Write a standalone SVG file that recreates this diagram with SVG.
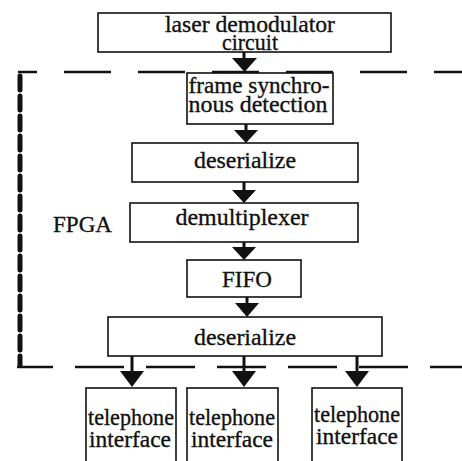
<svg xmlns="http://www.w3.org/2000/svg" width="462" height="461" viewBox="0 0 462 461">
<style>
  .box { fill: #fff; stroke: #111; stroke-width: 1.6; }
  .t { font-family: "Liberation Serif", "Times New Roman", serif; font-size: 24px; fill: #111; stroke: #111; stroke-width: 0.35; text-anchor: middle; }
  .stem { stroke: #111; stroke-width: 3; fill: none; }
  .head { fill: #111; }
  .fpga-top { stroke: #111; stroke-width: 2.5; fill: none; stroke-dasharray: 47 27; stroke-dashoffset: 28; }
  .fpga-bot { stroke: #111; stroke-width: 2.5; fill: none; stroke-dasharray: 49 22; stroke-dashoffset: 13; }
  .fpga-v { stroke: #111; stroke-width: 5; fill: none; stroke-dasharray: 14 6; stroke-linecap: round; }
</style>
<rect width="462" height="461" fill="#fff"/>
<g id="fpga-boundary">
  <path class="fpga-top" d="M 18 72 H 462"/>
  <path class="fpga-bot" d="M 17 367 H 462"/>
  <path class="fpga-v" d="M 20 76 V 365"/>
  <text class="t" x="53" y="232" style="text-anchor:start" textLength="59" lengthAdjust="spacingAndGlyphs">FPGA</text>
</g>
<g id="connectors">
  <path class="stem" d="M 244 52 V 60"/><path class="head" d="M 232 58 H 257 L 244.5 72 Z"/>
  <path class="stem" d="M 246 124 V 132"/><path class="head" d="M 234 130 H 258 L 246 143 Z"/>
  <path class="stem" d="M 244 182 V 192"/><path class="head" d="M 232 190 H 256 L 244 203 Z"/>
  <path class="stem" d="M 244 242 V 249"/><path class="head" d="M 232 247 H 256 L 244 260 Z"/>
  <path class="stem" d="M 247 297 V 305"/><path class="head" d="M 235 303 H 259 L 247 317 Z"/>
  <path class="stem" d="M 132 356 V 373"/><path class="head" d="M 120 371 H 144 L 132 387 Z"/>
  <path class="stem" d="M 244 356 V 373"/><path class="head" d="M 232 371 H 256 L 244 387 Z"/>
  <path class="stem" d="M 357 356 V 373"/><path class="head" d="M 345 371 H 369 L 357 387 Z"/>
</g>
<g id="laser">
  <rect class="box" x="98" y="13" width="293" height="39"/>
  <text class="t" x="250" y="32" textLength="170" lengthAdjust="spacingAndGlyphs">laser demodulator</text>
  <text class="t" x="250" y="50" textLength="56" lengthAdjust="spacingAndGlyphs">circuit</text>
</g>
<g id="frame-sync">
  <rect class="box" x="187" y="73" width="146" height="51"/>
  <text class="t" x="259" y="93" textLength="141" lengthAdjust="spacingAndGlyphs">frame synchro-</text>
  <text class="t" x="258" y="112" textLength="139" lengthAdjust="spacingAndGlyphs">nous detection</text>
</g>
<g id="deserialize1">
  <rect class="box" x="132" y="143" width="226" height="39"/>
  <text class="t" x="245" y="168" textLength="102" lengthAdjust="spacingAndGlyphs">deserialize</text>
</g>
<g id="demultiplexer">
  <rect class="box" x="130" y="203" width="228" height="39"/>
  <text class="t" x="242" y="225" textLength="133" lengthAdjust="spacingAndGlyphs">demultiplexer</text>
</g>
<g id="fifo">
  <rect class="box" x="187" y="260" width="114" height="37"/>
  <text class="t" x="247" y="287" textLength="50" lengthAdjust="spacingAndGlyphs">FIFO</text>
</g>
<g id="deserialize2">
  <rect class="box" x="108" y="317" width="274" height="39"/>
  <text class="t" x="245" y="345" textLength="102" lengthAdjust="spacingAndGlyphs">deserialize</text>
</g>
<g id="tel1">
  <rect class="box" x="86" y="388" width="90" height="80"/>
  <text class="t" x="131" y="425" textLength="86" lengthAdjust="spacingAndGlyphs">telephone</text>
  <text class="t" x="130" y="447" textLength="82" lengthAdjust="spacingAndGlyphs">interface</text>
</g>
<g id="tel2">
  <rect class="box" x="187" y="388" width="91" height="80"/>
  <text class="t" x="232" y="425" textLength="86" lengthAdjust="spacingAndGlyphs">telephone</text>
  <text class="t" x="232" y="447" textLength="82" lengthAdjust="spacingAndGlyphs">interface</text>
</g>
<g id="tel3">
  <rect class="box" x="312" y="388" width="90" height="80"/>
  <text class="t" x="357" y="422" textLength="86" lengthAdjust="spacingAndGlyphs">telephone</text>
  <text class="t" x="357" y="444" textLength="82" lengthAdjust="spacingAndGlyphs">interface</text>
</g>
</svg>
